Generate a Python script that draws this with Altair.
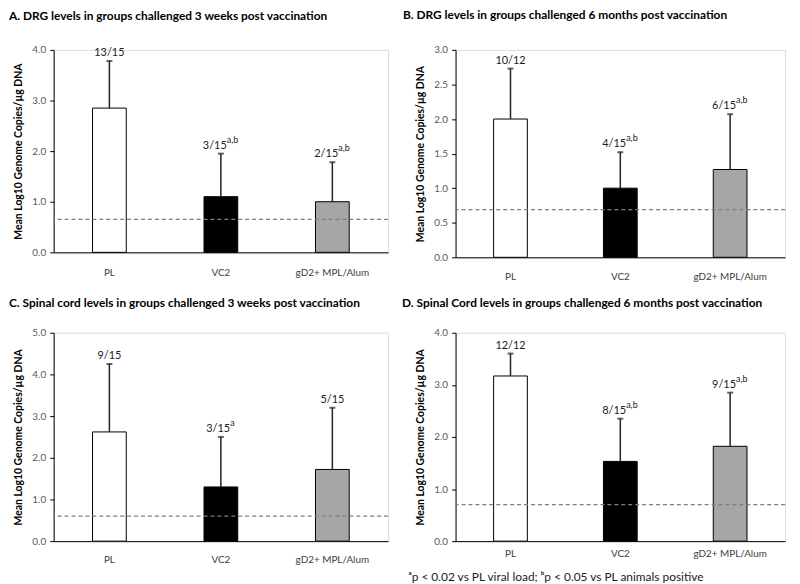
import altair as alt
import pandas as pd

FONT = "Lato"

groups = ["PL", "VC2", "gD2+ MPL/Alum"]
fills = ["#ffffff", "#000000", "#a6a6a6"]
y_title = "Mean Log10 Genome Copies/µg DNA"
footnote = "ᵃp < 0.02 vs PL viral load; ᵇp < 0.05 vs PL animals positive"

a_title = "A. DRG levels in groups challenged 3 weeks post vaccination"
a_mean = [2.85, 1.10, 1.00]
a_upper = [3.78, 1.95, 1.78]
a_count = ["13/15", "3/15", "2/15"]
a_sup = ["", "a,b", "a,b"]
a_limit = 0.65
a_ticks = [0.0, 1.0, 2.0, 3.0, 4.0]

b_title = "B.  DRG levels in groups challenged 6 months post vaccination"
b_mean = [2.00, 1.00, 1.27]
b_upper = [2.73, 1.52, 2.07]
b_count = ["10/12", "4/15", "6/15"]
b_sup = ["", "a,b", "a,b"]
b_limit = 0.69
b_ticks = [0.0, 0.5, 1.0, 1.5, 2.0, 2.5, 3.0]

c_title = "C. Spinal cord levels in groups challenged 3 weeks post vaccination"
c_mean = [2.62, 1.30, 1.72]
c_upper = [4.25, 2.50, 3.20]
c_count = ["9/15", "3/15", "5/15"]
c_sup = ["", "a", ""]
c_limit = 0.60
c_ticks = [0.0, 1.0, 2.0, 3.0, 4.0, 5.0]

d_title = "D. Spinal Cord levels in groups challenged 6 months post vaccination"
d_mean = [3.17, 1.53, 1.82]
d_upper = [3.60, 2.35, 2.85]
d_count = ["12/12", "8/15", "9/15"]
d_sup = ["", "a,b", "a,b"]
d_limit = 0.70
d_ticks = [0.0, 1.0, 2.0, 3.0, 4.0]


def text_width(s, size):
    w = 0.0
    for ch in s:
        if ch.isdigit():
            w += 0.58
        elif ch == "/":
            w += 0.39
        elif ch == ",":
            w += 0.25
        else:
            w += 0.52
    return w * size


def panel(title, mean, upper, count, sup, limit, ticks, width, height,
          title_dx, title_offset, label_pad, note=None):
    df = pd.DataFrame({"group": groups, "mean": mean, "upper": upper,
                       "count": count, "sup": sup, "lod": [limit] * 3})
    x_axis_kw = dict(labelAngle=0, ticks=False, domainColor="black",
                     domainWidth=1, labelColor="#404040", labelFontSize=10,
                     labelFont=FONT, labelPadding=label_pad)
    if note:
        x_axis = alt.Axis(title=note, titleAnchor="start", titleAlign="left",
                          titleX=-48, titleFont=FONT, titleFontSize=12,
                          titleFontWeight="normal", titleColor="#222222",
                          titlePadding=14, **x_axis_kw)
    else:
        x_axis = alt.Axis(title=None, **x_axis_kw)
    x = alt.X("group:N", sort=groups,
              scale=alt.Scale(domain=groups, paddingInner=0, paddingOuter=0),
              axis=x_axis)
    y_scale = alt.Scale(domain=[0, ticks[-1]], nice=False)
    y_axis = alt.Axis(values=ticks, format=".1f", title=y_title,
                      grid=False, domainColor="black", tickColor="black",
                      tickSize=4, labelColor="#595959", labelFontSize=10,
                      labelFont=FONT, labelPadding=4, labelOverlap=False,
                      titleFont=FONT, titleFontSize=10.5,
                      titleFontWeight="bold", titleColor="black",
                      titlePadding=8)

    def yq(field):
        return alt.Y(field + ":Q", scale=y_scale, axis=y_axis)

    base = alt.Chart(df)
    bars = base.mark_bar(size=34, stroke="black", strokeWidth=1).encode(
        x=x, y=yq("mean"),
        fill=alt.Fill("group:N", scale=alt.Scale(domain=groups, range=fills),
                      legend=None))
    err = base.mark_rule(color="#222222", strokeWidth=1.5).encode(
        x=x, y=yq("mean"), y2="upper:Q")
    cap = base.mark_tick(color="#222222", size=6, thickness=2).encode(
        x=x, y=yq("upper"))
    lod = base.transform_filter(alt.datum.group == groups[0]).mark_rule(
        color="#7f7f7f", strokeDash=[4, 3], strokeWidth=1.2).encode(
        y=yq("lod"))

    layers = [bars, err, cap, lod]
    for g, c, s in zip(groups, count, sup):
        sel = base.transform_filter(alt.datum.group == g)
        if s:
            wm = text_width(c, 11)
            ws = text_width(s, 9)
            dx = (wm - ws) / 2
            layers.append(sel.mark_text(align="right", baseline="bottom", dx=dx,
                                        dy=-3, fontSize=11, font=FONT,
                                        color="#222222").encode(
                x=x, y=yq("upper"), text="count:N"))
            layers.append(sel.mark_text(align="left", baseline="bottom", dx=dx,
                                        dy=-9, fontSize=9, font=FONT,
                                        color="#222222").encode(
                x=x, y=yq("upper"), text="sup:N"))
        else:
            layers.append(sel.mark_text(align="center", baseline="bottom",
                                        dy=-3, fontSize=11, font=FONT,
                                        color="#222222").encode(
                x=x, y=yq("upper"), text="count:N"))

    return alt.layer(*layers).properties(
        width=width, height=height,
        title=alt.TitleParams(title, anchor="start", frame="group", dx=title_dx,
                              offset=title_offset, fontSize=12, font=FONT,
                              fontWeight="bold", color="black"))


pa = panel(a_title, a_mean, a_upper, a_count, a_sup, a_limit, a_ticks,
           337, 204, -45, 22, 15)
pb = panel(b_title, b_mean, b_upper, b_count, b_sup, b_limit, b_ticks,
           332, 209, -53, 23, 14)
pc = panel(c_title, c_mean, c_upper, c_count, c_sup, c_limit, c_ticks,
           337, 210, -45, 18, 14)
pd_ = panel(d_title, d_mean, d_upper, d_count, d_sup, d_limit, d_ticks,
            332, 210, -54, 18, 7, note=footnote)

chart = alt.concat(pa, pb, pc, pd_, columns=2, bounds="flush",
                   spacing={"row": 76, "column": 68}).properties(
    padding={"left": 0, "top": -2, "right": 5, "bottom": 0}
).configure_view(stroke=None).configure(font=FONT)

chart.save("out.html", embed_options={"renderer": "svg", "actions": False})
